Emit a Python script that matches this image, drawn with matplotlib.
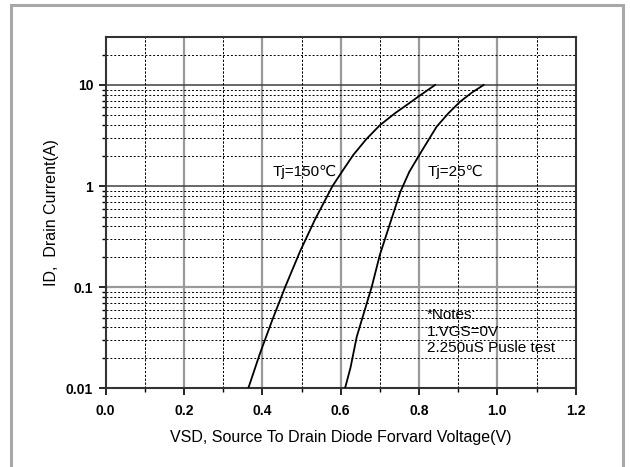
import numpy as np
import matplotlib
matplotlib.use('Agg')
import matplotlib.pyplot as plt
from matplotlib.ticker import FixedLocator, FixedFormatter, NullFormatter, MultipleLocator
from matplotlib.patches import Rectangle

plt.rcParams['font.family'] = ['Liberation Sans', 'DejaVu Sans']

# curve data
vsd_150 = [0.364, 0.394, 0.425, 0.458, 0.496, 0.534, 0.579, 0.605, 0.632, 0.665,
           0.70, 0.74, 0.77, 0.803, 0.841]
id_150 = [0.01, 0.0222, 0.047, 0.1, 0.225, 0.464, 1.0, 1.42, 2.03, 2.9,
          4.0, 5.3, 6.4, 7.9, 10.0]
vsd_25 = [0.611, 0.625, 0.641, 0.66, 0.679, 0.70, 0.726, 0.752, 0.775, 0.798,
          0.82, 0.845, 0.875, 0.905, 0.935, 0.965]
id_25 = [0.01, 0.016, 0.0324, 0.057, 0.1, 0.209, 0.427, 0.871, 1.38, 1.95,
         2.69, 3.87, 5.25, 6.84, 8.41, 10.0]

x_ticks = [0.0, 0.2, 0.4, 0.6, 0.8, 1.0, 1.2]
y_ticks = [0.01, 0.1, 1, 10]
y_labels = ['0.01', '0.1', '1', '10']

fig = plt.figure(figsize=(6.3, 4.67), dpi=100)
ax = fig.add_axes([0.1678, 0.1685, 0.746, 0.7529])

# outer grey frame
fig.patches.append(Rectangle((11 / 630, -0.05), 612 / 630, 1.05 - 5 / 467,
                             transform=fig.transFigure, fill=False,
                             edgecolor='#a8a8a8', lw=2.2, clip_on=False))

ax.plot(vsd_150, id_150, color='black', lw=1.3, zorder=5)
ax.plot(vsd_25, id_25, color='black', lw=1.3, zorder=5)

ax.set_yscale('log')
ax.set_xlim(0, 1.2)
ax.set_ylim(0.01, 30)

ax.xaxis.set_major_locator(FixedLocator(x_ticks))
ax.xaxis.set_minor_locator(MultipleLocator(0.1))
ax.yaxis.set_major_locator(FixedLocator(y_ticks))
ax.yaxis.set_major_formatter(FixedFormatter(y_labels))
ax.yaxis.set_minor_locator(FixedLocator(
    [m * d for d in [0.01, 0.1, 1, 10] for m in range(2, 10) if m * d < 30]))
ax.yaxis.set_minor_formatter(NullFormatter())
ax.set_xticklabels(['%.1f' % v for v in x_ticks])

ax.tick_params(which='major', direction='out', length=5, width=1.2,
               labelsize=10, pad=4)
ax.tick_params(which='minor', direction='out', length=3, width=1)
ax.tick_params(axis='x', which='major', pad=6)
for lab in ax.get_xticklabels() + ax.get_yticklabels():
    lab.set_fontweight('bold')

# grid lines
ax.grid(which='minor', color='black', linestyle=(0, (2, 2)), lw=0.7)
for v in [0.2, 0.4, 0.6, 0.8, 1.0]:
    ax.axvline(v, color='#9a9a9a', lw=1.6, zorder=1)
for v in [0.1, 0.3, 0.5, 0.7, 0.9, 1.1]:
    ax.axvline(v, color='black', lw=0.7, linestyle=(0, (2, 2)), zorder=1)
ax.axhline(0.1, color='#9a9a9a', lw=1.6, zorder=1)
ax.axhline(1, color='#404040', lw=1.1, zorder=1)
ax.axhline(10, color='#404040', lw=1.1, zorder=1)

for s in ax.spines.values():
    s.set_linewidth(1.5)
    s.set_color('#333333')

ax.set_xlabel('VSD, Source To Drain Diode Forvard Voltage(V)', fontsize=11.5, labelpad=9)
ax.set_ylabel('ID,  Drain Current(A)', fontsize=11.5, labelpad=5)

ax.text(0.356, 0.616, 'Tj=150℃', transform=ax.transAxes, fontsize=11,
        va='center', ha='left', zorder=6)
ax.text(0.684, 0.616, 'Tj=25℃', transform=ax.transAxes, fontsize=11,
        va='center', ha='left', zorder=6)
ax.text(0.683, 0.161, '*Notes:\n1.VGS=0V\n2.250uS Pusle test', transform=ax.transAxes,
        fontsize=11, va='center', ha='left', linespacing=1.25, zorder=6)

fig.savefig('out.png', dpi=100)
